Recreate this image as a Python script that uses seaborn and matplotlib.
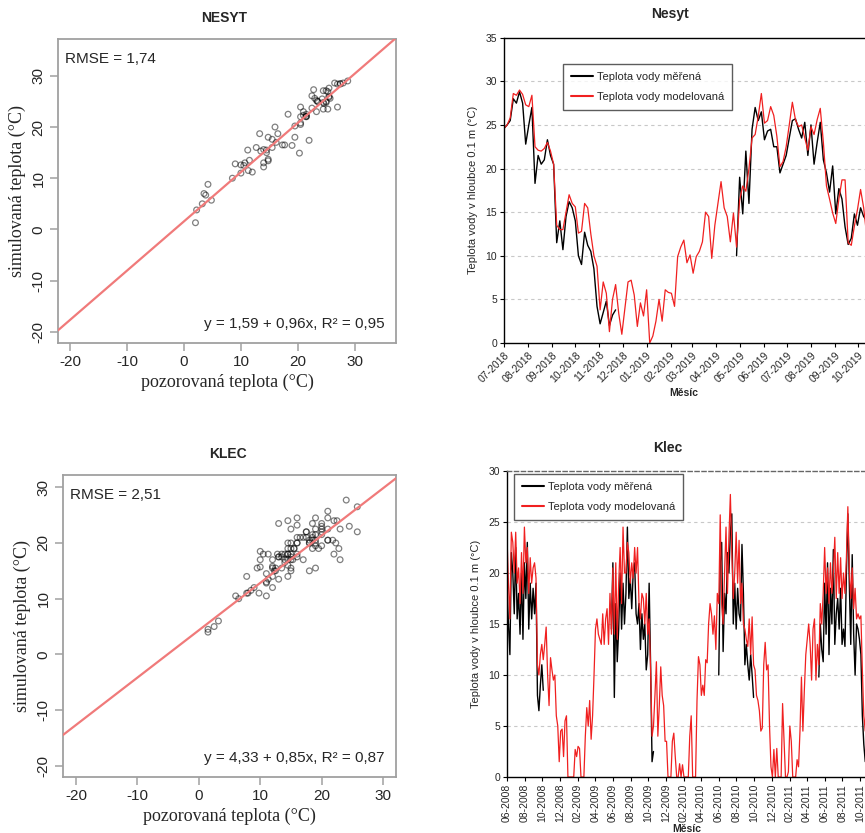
import numpy as np
import pandas as pd
import seaborn as sns
import matplotlib.pyplot as plt
import matplotlib.dates as mdates

# ---- Nesyt: 4-day grid from 2018-07-01 ----
nesyt_mod = [24.6, 25.0, 25.8, 28.6, 28.4, 29.0, 28.5, 27.3, 27.1, 28.4,
             22.5, 22.1, 22.0, 22.3, 23.0, 22.0, 20.5, 13.5, 13.0, 13.0,
             15.0, 17.0, 16.0, 15.6, 12.6, 12.8, 16.0, 15.5, 12.5, 10.0,
             8.8, 3.8, 7.0, 5.7, 1.3, 5.0, 6.7, 3.4, 1.0, 4.0,
             7.0, 7.2, 5.5, 1.9, 4.6, 3.1, 6.1, 0.0, 0.8, 2.5,
             5.0, 2.5, 6.1, 5.8, 5.7, 4.2, 9.9, 11.0, 11.8, 9.2,
             10.1, 8.0, 9.9, 10.5, 11.6, 15.0, 14.5, 9.7, 13.5, 16.0,
             18.5, 15.5, 14.5, 11.6, 14.9, 11.0, 16.4, 18.0, 17.4, 20.0,
             23.5, 23.9, 26.0, 28.6, 25.2, 25.5, 27.1, 26.1, 23.7, 20.2,
             20.8, 22.5, 25.0, 27.6, 25.6, 24.8, 25.0, 23.5, 22.1, 24.8,
             23.9, 25.6, 26.9, 23.0, 18.0, 16.5, 14.9, 13.7, 16.5, 18.7,
             18.7, 11.5, 11.2, 13.4, 15.3, 17.6, 15.5, 12.2]
nesyt_mer_starts = ['2018-07-01', '2019-04-27']
nesyt_mer_1 = [24.6, 25.0, 25.5, 28.0, 27.5, 28.8, 27.5, 22.8, 25.0, 27.0,
               18.3, 21.5, 20.5, 21.0, 23.3, 21.5, 20.5, 11.5, 14.0, 10.7,
               14.5, 16.2, 15.5, 14.0, 10.0, 9.0, 12.7, 11.2, 10.5, 8.5,
               4.2, 2.2, 3.5, 4.8, 2.0, 3.2, 3.8]
nesyt_mer_2 = [10.0, 19.0, 14.8, 22.0, 16.0, 24.5, 27.0, 25.5, 26.5, 23.3,
               24.3, 24.5, 22.5, 22.5, 19.5, 20.5, 21.5, 23.5, 25.5, 25.7,
               24.5, 23.5, 25.3, 21.5, 25.0, 20.5, 23.0, 25.3, 21.0, 19.5,
               17.3, 20.3, 14.8, 17.7, 16.5, 13.3, 11.3, 12.0, 14.8, 13.5,
               15.5, 14.5, 14.0]

# ---- Klec: 5-day grid from 2008-06-01 (one season = Jun..May) ----
klec_mod_0809 = [23.5, 19, 15.5, 24, 23, 20,
                 24, 19, 20.5, 17, 22, 18, 24.5,
                 21, 22.5, 18, 21.5, 19, 20.5,
                 21, 19.5, 11, 10, 12, 13,
                 11.5, 13, 14.7, 10, 7, 11.7,
                 10.5, 9.5, 10, 6, 5, 1.5,
                 4.5, 4.7, 2, 5.5, 6, 0,
                 0, 0, 0, 0, 2.7, 2,
                 3, 2.8, 0, 0, 0, 4,
                 6.8, 5, 7.5, 3.7, 6, 10,
                 14.5, 15.5, 14, 13.5, 13, 16,
                 13, 15.5, 16.5, 13, 18, 14]
klec_mod_0910 = [20.5, 14, 21, 13.5, 19, 22.5,
                 17, 24.5, 20, 20, 23, 22, 19,
                 21, 19.5, 22.5, 20, 22.5, 17,
                 15.5, 18, 17.5, 15, 18, 14,
                 15.5, 10.5, 4, 5, 8, 11.3,
                 4, 7, 10.8, 8, 7, 3.5,
                 3.5, 0, 0, 0, 3.5, 4.3,
                 2, 0, 0, 1.3, 0, 1.2,
                 0, 0, 0, 0, 4, 6,
                 0, 0, 0, 7.5, 11.8, 11,
                 8, 9, 8, 11.5, 11.2, 15,
                 17, 16, 14, 15.8, 12.5, 18]
klec_mod_1011 = [17, 25.7, 17, 15, 20, 24.5,
                 18, 23.5, 27.7, 22, 17.5, 20, 24,
                 19, 23.2, 17, 19, 15, 14.5,
                 13.5, 12.8, 15.5, 12, 15.7, 11,
                 10.5, 8, 7.5, 6.5, 4.5, 4.8,
                 11, 13.2, 10.5, 11, 5, 1,
                 0, 2.7, 0, 2.8, 0, 0,
                 0, 7.2, 3.5, 0, 0, 0.5,
                 5, 3.5, 0, 0, 0, 1.7,
                 1, 4.5, 9.8, 4.5, 8.5, 12,
                 13.5, 15, 13, 9.5, 14.5, 15.5,
                 9.5, 13, 11, 17, 15, 18]
klec_mod_2011 = [22.5, 18, 20.5, 17, 21, 18,
                 20, 23.5, 17.5, 22, 18, 21.5, 17.5,
                 20, 18, 21.5, 26.5, 20.5, 17.5,
                 20.5, 16.5, 18.5, 15.5, 16, 15.5,
                 15.8, 10.5, 6, 4.5, 10]
klec_mer_starts = ['2008-06-01', '2009-05-27', '2010-06-01', '2011-05-12']
klec_mer_2008 = [18.5, 15, 12, 22, 20, 16,
                 22.5, 15.5, 18, 14, 20, 13.5, 21,
                 17.5, 23, 14.5, 19, 15.5, 18.5,
                 16, 19, 8, 6.5, 9, 11,
                 8.5]
klec_mer_2009 = [14.5,
                 21, 7.8, 17, 11.3, 14.5, 20,
                 14.5, 19, 15, 18, 24.5, 17.5, 19.5,
                 16.5, 20, 21, 16, 15, 17,
                 12.5, 16, 13.5, 15, 10.5, 12,
                 19, 11, 1.5, 2.5]
klec_mer_2010 = [10, 21, 23, 12.3, 18, 16,
                 22, 20, 24, 25.8, 15, 19, 14.5,
                 18.5, 16, 15.3, 22.8, 18, 11,
                 13, 11, 9.5, 12, 10, 7.8]
klec_mer_2011 = [9.8, 15, 12.5, 11.3,
                 19, 14, 21, 12, 18.5, 15,
                 22.3, 13, 16, 17.5, 14.5, 18.5, 13,
                 14.5, 12.8, 20, 25.8, 19, 13,
                 21.8, 14, 10, 15, 14.5, 13.5,
                 12, 6, 3.2, 1.5]

# regression / error text values
nesyt_fit = (1.59, 0.96, '0,95', '1,74')
klec_fit = (4.33, 0.85, '0,87', '2,51')
label_mer = 'Teplota vody měřená'
label_mod = 'Teplota vody modelovaná'


def build(mod, mer_lists, starts, start, step):
    d = pd.DataFrame({'datum': pd.date_range(start, periods=len(mod), freq=step),
                      'modelovana': mod})
    parts = []
    for k, (s, v) in enumerate(zip(starts, mer_lists)):
        parts.append(pd.DataFrame({'datum': pd.date_range(s, periods=len(v), freq=step),
                                   'merena': v, 'usek': k}))
    m = pd.concat(parts, ignore_index=True)
    pairs = m.merge(d, on='datum')
    return d, m, pairs


nesyt_d, nesyt_m, nesyt_p = build(nesyt_mod, [nesyt_mer_1, nesyt_mer_2],
                                  nesyt_mer_starts, '2018-07-01', '4D')
klec_d, klec_m, klec_p = build(klec_mod_0809 + klec_mod_0910 + klec_mod_1011 + klec_mod_2011,
                               [klec_mer_2008, klec_mer_2009, klec_mer_2010, klec_mer_2011],
                               klec_mer_starts, '2008-06-01', '5D')

sns.set_style('ticks')
plt.rcParams['font.family'] = ['Liberation Sans', 'DejaVu Sans']

W, H = 865, 833
fig = plt.figure(figsize=(W / 100, H / 100), dpi=100)


def box(l, t, r, b):
    return [l / W, 1 - b / H, (r - l) / W, (b - t) / H]


def scatter_panel(ax, pairs, fit, lims, title, tx, ty):
    a, b, r2, rmse = fit
    sns.scatterplot(data=pairs, x='merena', y='modelovana', ax=ax, s=17,
                    facecolor='none', edgecolor=(0, 0, 0, 0.5), linewidth=0.9)
    ax.axline((0, a), slope=b, color='#f07a7a', lw=1.6, zorder=3)
    ax.set_xlim(lims[0], lims[1])
    ax.set_ylim(lims[2], lims[3])
    ticks = [-20, -10, 0, 10, 20, 30]
    ax.set_xticks(ticks)
    ax.set_yticks(ticks)
    ax.set_xticklabels([str(t) for t in ticks])
    ax.set_yticklabels([str(t) for t in ticks], rotation=90, va='center')
    for sp in ax.spines.values():
        sp.set_visible(True)
        sp.set_color('#a0a0a0')
        sp.set_linewidth(1.3)
    ax.tick_params(color='#a0a0a0', length=6, width=1.1, labelsize=11, pad=3)
    ax.set_xlabel('pozorovaná teplota (°C)', family='Liberation Serif', fontsize=13, labelpad=3)
    ax.set_ylabel('simulovaná teplota (°C)', family='Liberation Serif', fontsize=13, labelpad=4)
    ax.text(0.02, 0.935, 'RMSE = ' + rmse, transform=ax.transAxes, fontsize=11, va='center')
    ax.text(0.965, 0.062, 'y = {} + {}x, R² = {}'.format(str(a).replace('.', ','),
                                                         str(b).replace('.', ','), r2),
            transform=ax.transAxes, fontsize=11, ha='right', va='center')
    fig.text(tx / W, 1 - ty / H, title, fontsize=10, fontweight='bold', ha='center', va='center')


def series_panel(ax, d, m, ymax, xlim, locator, rot, legend_anchor, title, tx, ty, mx, my):
    for y in range(5, ymax, 5):
        ax.axhline(y, color='#c8c8c8', lw=0.8, ls=(0, (3, 3)), zorder=0)
    for k, seg in m.groupby('usek'):
        sns.lineplot(data=seg, x='datum', y='merena', ax=ax, color='black', lw=1.0,
                     label=label_mer if k == 0 else '_nolegend_')
    sns.lineplot(data=d, x='datum', y='modelovana', ax=ax, color='#f02020', lw=0.9,
                 label=label_mod)
    ax.set_xlim(pd.Timestamp(xlim[0]), pd.Timestamp(xlim[1]))
    ax.set_ylim(0, ymax)
    ax.set_yticks(range(0, ymax + 1, 5))
    ax.xaxis.set_major_locator(locator)
    ax.xaxis.set_major_formatter(mdates.DateFormatter('%m-%Y'))
    ax.tick_params(labelsize=7.5, length=3, width=0.8, color='black', pad=2)
    if rot == 45:
        plt.setp(ax.get_xticklabels(), rotation=45, ha='right', rotation_mode='anchor')
    else:
        plt.setp(ax.get_xticklabels(), rotation=90, ha='center')
    for sp in ax.spines.values():
        sp.set_color('black')
        sp.set_linewidth(1.0)
    ax.spines['right'].set_visible(False)
    ax.set_xlabel('')
    ax.set_ylabel('Teplota vody v hloubce 0.1 m (°C)', fontsize=8, labelpad=5)
    leg = ax.legend(loc='upper left', bbox_to_anchor=legend_anchor, fontsize=8,
                    frameon=True, fancybox=False, handlelength=2.0, handletextpad=0.3,
                    labelspacing=0.9, borderpad=0.7, borderaxespad=0)
    leg.get_frame().set_edgecolor('#333333')
    leg.get_frame().set_linewidth(1.0)
    for h in leg.get_lines():
        h.set_linewidth(1.5)
    fig.text(tx / W, 1 - ty / H, title, fontsize=10, fontweight='bold', ha='center', va='center')
    fig.text(mx / W, 1 - my / H, 'Měsíc', fontsize=7.5, fontweight='bold', ha='center', va='center')


ax1 = fig.add_axes(box(58, 39, 396, 343))
scatter_panel(ax1, nesyt_p, nesyt_fit, (-22.2, 37.3, -22.2, 37.2), 'NESYT', 224, 18)

ax3 = fig.add_axes(box(63, 475, 396, 777))
scatter_panel(ax3, klec_p, klec_fit, (-22.1, 32.1, -22.0, 32.2), 'KLEC', 228, 454)

ax2 = fig.add_axes(box(504, 37.7, 866, 343))
series_panel(ax2, nesyt_d, nesyt_m, 35, ('2018-07-01', '2019-10-11'),
             mdates.MonthLocator(), 45, (0.164, 0.914), 'Nesyt', 670, 14, 684, 393)

ax4 = fig.add_axes(box(507, 471, 867, 777))
series_panel(ax4, klec_d, klec_m, 30, ('2008-06-01', '2011-10-25'),
             mdates.MonthLocator(bymonth=[2, 4, 6, 8, 10, 12]), 90, (0.02, 0.99),
             'Klec', 668, 448, 687, 829)
ax4.spines['top'].set_color('#666666')
ax4.spines['top'].set_linestyle((0, (3, 2)))

fig.savefig('out.png', dpi=100)
